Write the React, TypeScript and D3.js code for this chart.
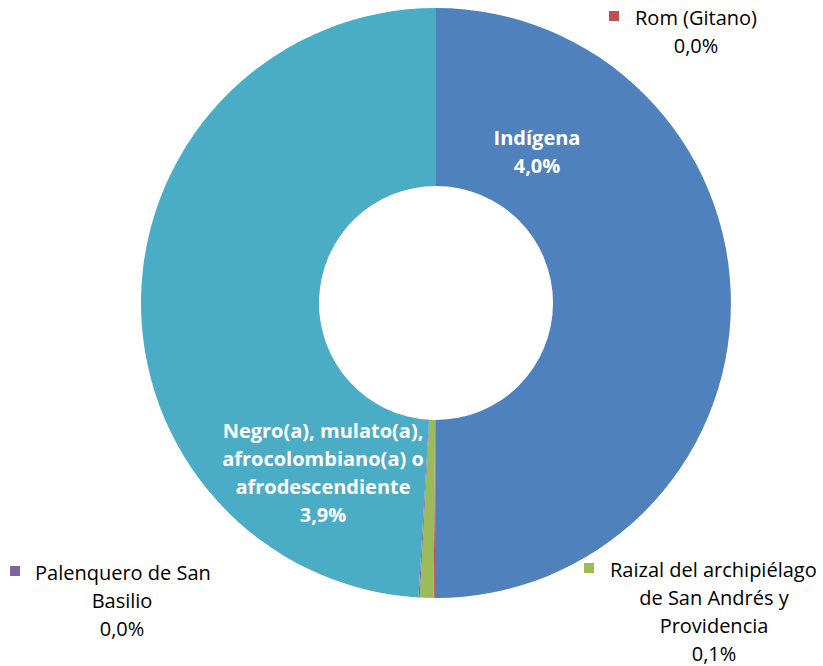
import React from "react";
import * as d3 from "d3";

const categories = [
  "Indígena",
  "Rom (Gitano)",
  "Raizal del archipiélago de San Andrés y Providencia",
  "Palenquero de San Basilio",
  "Negro(a), mulato(a), afrocolombiano(a) o afrodescendiente",
];
const values = [3.98, 0.005, 0.06, 0.005, 3.9];
const valueLabels = ["4,0%", "0,0%", "0,1%", "0,0%", "3,9%"];
const colors = ["#4F81BD", "#C0504D", "#9BBB59", "#8064A2", "#4BACC6"];

const W = 823;
const H = 666;
const cx = 436;
const cy = 303;
const outerR = 295;
const innerR = 117;
const FONT = "'Open Sans', 'Noto Sans', sans-serif";

export default function App() {
  const pie = d3.pie<number>().sort(null).value((d) => d);
  const arcs = pie(values);
  const arcGen = d3.arc<d3.PieArcDatum<number>>().innerRadius(innerR).outerRadius(outerR);

  const fs = 20;
  const lh = 28;

  return (
    <svg
      width={W}
      height={H}
      style={{ position: "absolute", left: 0, top: 0, background: "#fff" }}
      fontFamily={FONT}
    >
      <g transform={`translate(${cx},${cy})`}>
        {arcs.map((a, i) => (
          <path key={i} d={arcGen(a) || ""} fill={colors[i]} />
        ))}
      </g>

      {/* inside labels */}
      <g fill="#fff" fontWeight="bold" fontSize={fs} textAnchor="middle">
        <text x={537} y={145}>{categories[0]}</text>
        <text x={537} y={173}>{valueLabels[0]}</text>
        {["Negro(a), mulato(a),", "afrocolombiano(a) o", "afrodescendiente", valueLabels[4]].map((t, k) => (
          <text key={k} x={323} y={438 + k * 28}>{t}</text>
        ))}
      </g>

      {/* outside labels */}
      <g fill="#000" fontSize={fs}>
        <rect x={609} y={11} width={10} height={10} fill={colors[1]} />
        <text x={635} y={25}>{categories[1]}</text>
        <text x={696} y={25 + lh} textAnchor="middle">{valueLabels[1]}</text>

        <rect x={584} y={563} width={10} height={10} fill={colors[2]} />
        <text x={610} y={577}>Raizal del archipiélago</text>
        <text x={714} y={577 + lh} textAnchor="middle">de San Andrés y</text>
        <text x={714} y={577 + 2 * lh} textAnchor="middle">Providencia</text>
        <text x={714} y={577 + 3 * lh} textAnchor="middle">{valueLabels[2]}</text>

        <rect x={10} y={566} width={10} height={10} fill={colors[3]} />
        <text x={35} y={580}>Palenquero de San</text>
        <text x={122} y={580 + lh} textAnchor="middle">Basilio</text>
        <text x={122} y={580 + 2 * lh} textAnchor="middle">{valueLabels[3]}</text>
      </g>
    </svg>
  );
}
